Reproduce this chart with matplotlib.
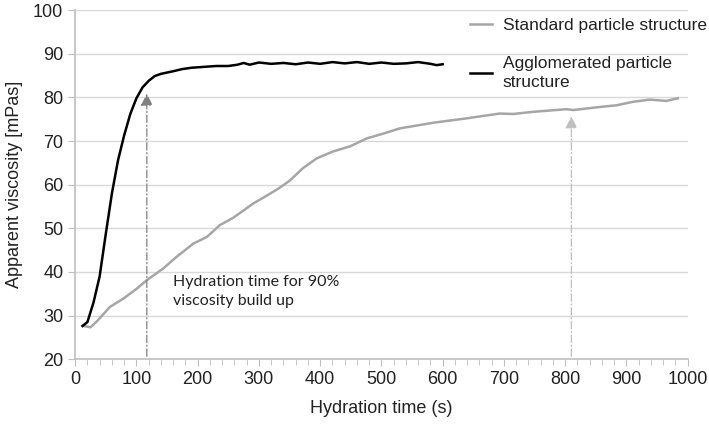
import matplotlib
matplotlib.use("Agg")
import matplotlib.pyplot as plt
from matplotlib.ticker import MultipleLocator

plt.rcParams['font.family'] = ['Liberation Sans', 'DejaVu Sans']

# dados
tempo_aglom = [12, 20, 30, 40, 50, 60, 70, 80, 90, 100, 110, 120, 130, 140, 150,
               160, 175, 190, 210, 230, 250, 265, 275, 285, 300, 320, 340, 360,
               380, 400, 420, 440, 460, 480, 500, 520, 540, 560, 580, 590, 600]
visc_aglom = [27.6, 28.5, 33, 39, 48.7, 58, 65.6, 71.3, 76.2, 79.8, 82.3, 83.8,
              84.9, 85.4, 85.7, 86, 86.5, 86.8, 87, 87.2, 87.2, 87.5, 87.9, 87.5,
              88, 87.7, 87.9, 87.6, 88, 87.7, 88.1, 87.8, 88.1, 87.7, 88.0, 87.7,
              87.8, 88.1, 87.7, 87.4, 87.6]

tempo_padrao = [14, 25, 35, 57, 79, 101, 117, 144, 166, 193, 215, 236, 258, 291,
                313, 334, 351, 372, 394, 421, 449, 476, 503, 530, 585, 639, 693,
                715, 748, 802, 813, 856, 884, 911, 938, 965, 984]
visc_padrao = [27.6, 27.3, 28.6, 32, 33.9, 36.2, 38.1, 40.8, 43.5, 46.5, 48,
               50.7, 52.4, 55.7, 57.5, 59.3, 61, 63.8, 66, 67.6, 68.8, 70.6,
               71.7, 72.9, 74.2, 75.2, 76.3, 76.2, 76.7, 77.3, 77.1, 77.8, 78.2,
               79, 79.5, 79.2, 79.8]

# tempos de 90% (setas)
t90_aglom = 117
t90_padrao = 810
ponta_aglom = 81.5
ponta_padrao = 76.3

fig = plt.figure(figsize=(7.09, 4.24), dpi=100)
ax = fig.add_axes([0.106, 0.153, 0.864, 0.823])

ax.plot(tempo_padrao, visc_padrao, color='#a6a6a6', lw=1.8,
        label='Standard particle structure')
ax.plot(tempo_aglom, visc_aglom, color='black', lw=1.8,
        label='Agglomerated particle\nstructure')

# linhas tracejadas com setas
ax.annotate('', xy=(t90_aglom, ponta_aglom), xytext=(t90_aglom, 20),
            arrowprops=dict(arrowstyle='-|>', color='#808080', lw=0.9,
                            linestyle=(0, (6, 2, 1, 2)), mutation_scale=18))
ax.annotate('', xy=(t90_padrao, ponta_padrao), xytext=(t90_padrao, 20),
            arrowprops=dict(arrowstyle='-|>', color='#bfbfbf', lw=0.9,
                            linestyle=(0, (6, 2, 1, 2)), mutation_scale=18))

ax.text(159, 39.3, 'Hydration time for 90%\nviscosity build up', family='Lato',
        fontsize=11.5, va='top', ha='left', color='#222222', linespacing=1.45)

ax.set_xlim(0, 1000)
ax.set_ylim(20, 100)
ax.xaxis.set_major_locator(MultipleLocator(100))
ax.xaxis.set_minor_locator(MultipleLocator(20))
ax.yaxis.set_major_locator(MultipleLocator(10))
ax.grid(axis='y', color='#d9d9d9', lw=1)
ax.set_axisbelow(True)

for lado in ['top', 'right']:
    ax.spines[lado].set_visible(False)
for lado in ['left', 'bottom']:
    ax.spines[lado].set_color('#bfbfbf')
    ax.spines[lado].set_linewidth(1.2)

ax.tick_params(axis='both', which='both', color='#bfbfbf', labelsize=13,
               labelcolor='#222222')
ax.tick_params(which='major', length=5)
ax.tick_params(which='minor', length=4)

ax.set_xlabel('Hydration time (s)', fontsize=13, color='#222222', labelpad=9)
ax.set_ylabel('Apparent viscosity [mPas]', fontsize=13, color='#222222', labelpad=7)

leg = ax.legend(loc='upper left', bbox_to_anchor=(0.633, 0.999), frameon=False,
                fontsize=12.5, handlelength=1.3, handletextpad=0.6,
                labelspacing=1.35, borderaxespad=0.0)
for t in leg.get_texts():
    t.set_color('#222222')
    t.set_linespacing(1.3)

fig.savefig('out.png', dpi=100)
